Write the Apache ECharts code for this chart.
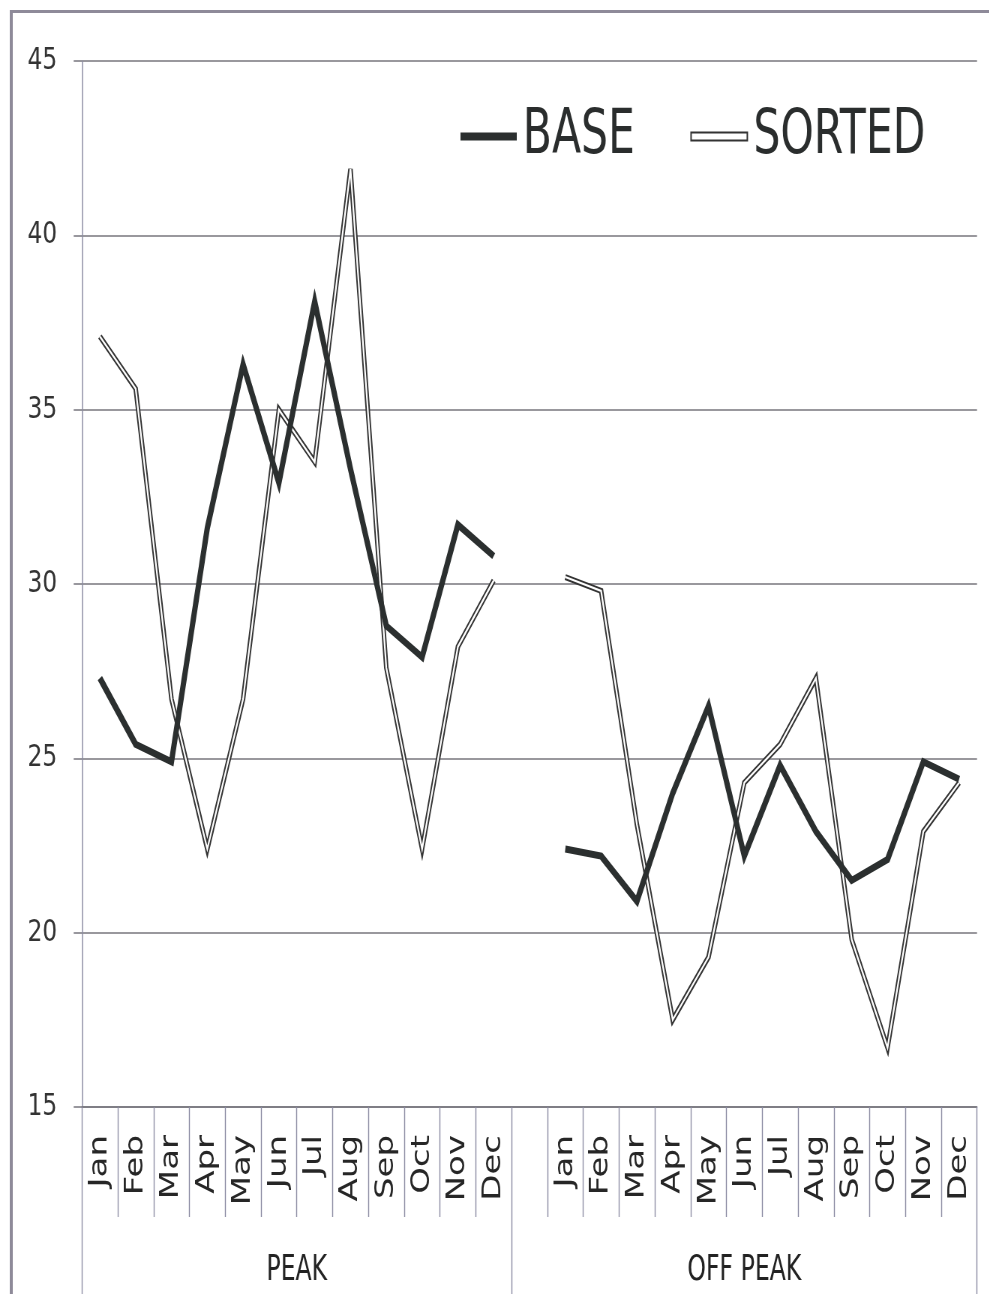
<!DOCTYPE html>
<html>
<head>
<meta charset="utf-8">
<script src="https://cdn.jsdelivr.net/npm/echarts@6/dist/echarts.min.js"></script>
<style>
  html, body { margin: 0; padding: 0; background: #fff; overflow: hidden; width: 989px; height: 1294px; }
  /* chart is laid out wide and squeezed horizontally to the page width */
  #chart { width: 1319px; height: 1294px; transform: scaleX(0.75); transform-origin: 0 0; }
</style>
</head>
<body>
<div id="chart"></div>
<script>
const months = ['Jan', 'Feb', 'Mar', 'Apr', 'May', 'Jun', 'Jul', 'Aug', 'Sep', 'Oct', 'Nov', 'Dec'];
const groupNames = ['PEAK', 'OFF PEAK'];
const yTicks = [15, 20, 25, 30, 35, 40, 45];

const basePeak      = [27.3, 25.4, 24.9, 31.6, 36.3, 32.9, 38.1, 33.3, 28.8, 27.9, 31.7, 30.8];
const baseOffPeak   = [22.4, 22.2, 20.9, 24.0, 26.5, 22.2, 24.8, 22.9, 21.5, 22.1, 24.9, 24.4];
const sortedPeak    = [37.1, 35.6, 26.7, 22.4, 26.7, 35.0, 33.5, 41.9, 27.6, 22.4, 28.2, 30.1];
const sortedOffPeak = [30.2, 29.8, 23.1, 17.5, 19.3, 24.3, 25.4, 27.3, 19.8, 16.7, 22.9, 24.3];

// one empty slot separates the two groups
const categories = months.concat([''], months);
const baseData = basePeak.concat([null], baseOffPeak);
const sortedData = sortedPeak.concat([null], sortedOffPeak);
// group boundaries and label centres, in category units
const groupEdges = [0, months.length, categories.length];
const groupCentres = [months.length / 2, (months.length + categories.length) / 2];

const narrow = '"Liberation Sans Narrow", "DejaVu Sans Condensed", "Liberation Sans", sans-serif';
const gridColor = '#77767d';
const divColor = '#8c8ca3';
const ink = '#2b2f2f';

const chart = echarts.init(document.getElementById('chart'), null, { renderer: 'canvas' });

chart.setOption({
  backgroundColor: '#ffffff',
  animation: false,
  graphic: [
    { type: 'line', shape: { x1: 15, y1: 11.5, x2: 1319, y2: 11.5 }, style: { stroke: '#8e8a99', lineWidth: 3 } },
    { type: 'line', shape: { x1: 15, y1: 10, x2: 15, y2: 1294 }, style: { stroke: '#8e8a99', lineWidth: 4 } }
  ],
  legend: {
    left: 609,
    top: 100,
    itemWidth: 75,
    itemHeight: 8,
    itemGap: 74,
    selectedMode: false,
    textStyle: { fontFamily: narrow, fontSize: 63, color: '#2a2d2d', padding: [0, 0, 0, 3] },
    data: [
      { name: 'BASE', icon: 'rect', itemStyle: { color: ink, borderWidth: 0 } },
      { name: 'SORTED', icon: 'rect', itemStyle: { color: '#ffffff', borderColor: '#333333', borderWidth: 2 } }
    ]
  },
  grid: { left: 109.3, right: 16.3, top: 61, bottom: 187, containLabel: false },
  xAxis: [
    {
      type: 'category',
      data: categories,
      boundaryGap: true,
      axisLine: { show: true, lineStyle: { color: gridColor, width: 1.5 } },
      axisTick: { show: true, interval: 0, length: 110, lineStyle: { color: divColor, width: 1.4 } },
      axisLabel: { interval: 0, rotate: 90, margin: 28, fontFamily: '"DejaVu Sans", Verdana, sans-serif', fontSize: 34, color: '#262626' },
      splitLine: { show: false }
    },
    {
      type: 'value',
      min: 0,
      max: categories.length,
      position: 'bottom',
      offset: 110,
      axisLine: { show: false },
      splitLine: { show: false },
      axisTick: { show: true, customValues: groupEdges, length: 90, lineStyle: { color: divColor, width: 1.4 } },
      axisLabel: {
        customValues: groupCentres,
        formatter: v => (v === groupCentres[0] ? groupNames[0] : groupNames[1]),
        margin: 36, fontFamily: narrow, fontSize: 35, color: '#222'
      }
    }
  ],
  yAxis: {
    type: 'value',
    min: yTicks[0],
    max: yTicks[yTicks.length - 1],
    interval: 5,
    axisLine: { show: true, lineStyle: { color: divColor, width: 1.5 } },
    axisTick: { show: true, length: 11, lineStyle: { color: gridColor, width: 1.5 } },
    axisLabel: { margin: 33, fontFamily: '"DejaVu Sans", sans-serif', fontSize: 31, color: '#333333' },
    splitLine: { show: true, lineStyle: { color: gridColor, width: 1.5 } }
  },
  series: [
    {
      name: 'SORTED', type: 'line', data: sortedData, showSymbol: false, connectNulls: false,
      lineStyle: { color: '#333333', width: 6, join: 'miter', miterLimit: 6 }, z: 2
    },
    {
      name: 'SORTED', type: 'line', data: sortedData, showSymbol: false, connectNulls: false,
      lineStyle: { color: '#ffffff', width: 2.2, join: 'miter', miterLimit: 6 }, z: 3
    },
    {
      name: 'BASE', type: 'line', data: baseData, showSymbol: false, connectNulls: false,
      lineStyle: { color: ink, width: 7, join: 'miter', miterLimit: 6 }, z: 4
    }
  ]
});
</script>
</body>
</html>
